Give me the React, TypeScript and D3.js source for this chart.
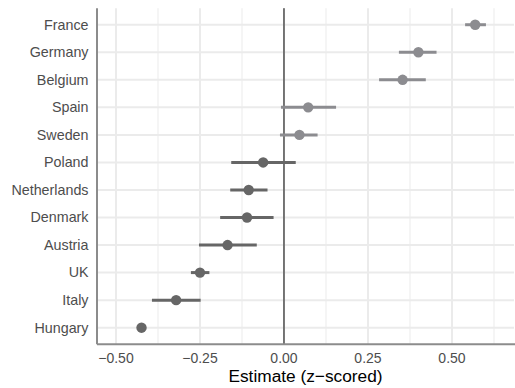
import React from "react";
import * as d3 from "d3";

const countries = ["France","Germany","Belgium","Spain","Sweden","Poland","Netherlands","Denmark","Austria","UK","Italy","Hungary"];
const estimates = [0.569,0.400,0.353,0.072,0.046,-0.062,-0.105,-0.110,-0.168,-0.250,-0.321,-0.424];
const lowers = [0.539,0.342,0.283,-0.009,-0.012,-0.157,-0.160,-0.190,-0.253,-0.277,-0.393,-0.430];
const uppers = [0.601,0.454,0.422,0.155,0.100,0.035,-0.049,-0.031,-0.081,-0.222,-0.248,-0.418];
const xTicks = [-0.5,-0.25,0,0.25,0.5];
const xMinor = [-0.375,-0.125,0.125,0.375,0.625];
const xLabels = ["\u22120.50","\u22120.25","0.00","0.25","0.50"];

export default function App() {
  const W = 515, H = 388;
  const left = 97, right = 514, top = 8.2, bottom = 344.2;
  const x = d3.scaleLinear().domain([-0.5565, (514 - 284) / 336]).range([left, right]);
  const n = countries.length;
  const step = (bottom - top) / (n - 1 + 1.2);
  const y = (i: number) => top + step * 0.6 + i * step;
  const font = "'Liberation Sans', Arial, Helvetica, sans-serif";
  const light = "#8c8c90";
  const dark = "#666666";
  return (
    <svg width={W} height={H} style={{ position: "absolute", left: 0, top: 0, fontFamily: font }}>
      <rect x={0} y={0} width={W} height={H} fill="#fff" />
      {xMinor.map((t) => (
        <line key={"mn" + t} x1={x(t)} x2={x(t)} y1={top} y2={bottom} stroke="#ebebeb" strokeWidth={1} />
      ))}
      {xTicks.map((t) => (
        <line key={"mj" + t} x1={x(t)} x2={x(t)} y1={top} y2={bottom} stroke="#ebebeb" strokeWidth={2} />
      ))}
      {countries.map((c, i) => (
        <line key={"hg" + c} x1={left} x2={right} y1={y(i)} y2={y(i)} stroke="#ebebeb" strokeWidth={2} />
      ))}
      <line x1={x(0)} x2={x(0)} y1={top} y2={bottom} stroke="#000" strokeWidth={1} />
      {countries.map((c, i) => {
        const col = estimates[i] > 0 ? light : dark;
        return (
          <g key={"pt" + c}>
            <line x1={x(lowers[i])} x2={x(uppers[i])} y1={y(i)} y2={y(i)} stroke={col} strokeWidth={3} />
            <circle cx={x(estimates[i])} cy={y(i)} r={5.2} fill={col} />
          </g>
        );
      })}
      <line x1={left} x2={left} y1={top} y2={bottom} stroke="#8c8c8c" strokeWidth={2} />
      <line x1={left} x2={W} y1={bottom} y2={bottom} stroke="#8c8c8c" strokeWidth={2} />
      {countries.map((c, i) => (
        <text key={"yl" + c} x={88.5} y={y(i)} dy="0.34em" textAnchor="end" fontSize={14.3} fill="#4d4d4d">{c}</text>
      ))}
      {xTicks.map((t, i) => (
        <text key={"xl" + t} x={x(t)} y={363.3} textAnchor="middle" fontSize={14} fill="#4d4d4d">{xLabels[i]}</text>
      ))}
      <text x={(left + right) / 2} y={382} textAnchor="middle" fontSize={17.3} fill="#000">Estimate (z{"\u2212"}scored)</text>
    </svg>
  );
}
